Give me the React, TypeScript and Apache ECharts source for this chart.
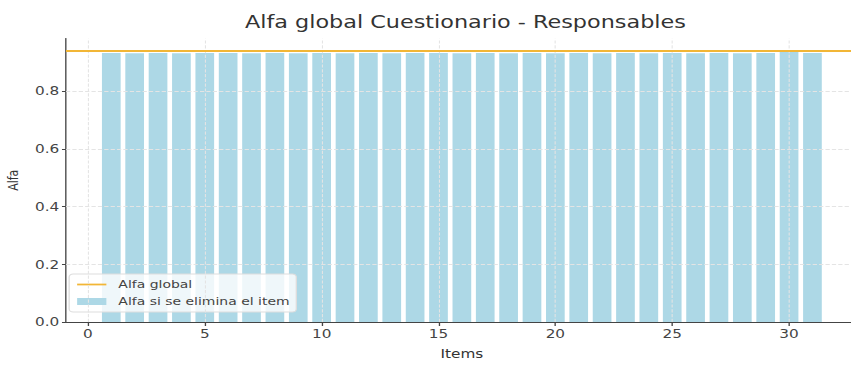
import React, { useEffect, useRef } from "react";
import * as echarts from "echarts";

const items: number[] = [1, 2, 3, 4, 5, 6, 7, 8, 9, 10, 11, 12, 13, 14, 15, 16, 17, 18, 19, 20, 21, 22, 23, 24, 25, 26, 27, 28, 29, 30, 31];
const alphaIfDeleted: number[] = [
  0.932, 0.931, 0.932, 0.931, 0.932, 0.932, 0.931, 0.932, 0.931, 0.932,
  0.931, 0.932, 0.931, 0.932, 0.932, 0.931, 0.932, 0.931, 0.932, 0.931,
  0.932, 0.931, 0.932, 0.931, 0.932, 0.931, 0.932, 0.931, 0.932, 0.937,
  0.932,
];
const globalAlpha = 0.935;
const xTicks: number[] = [0, 5, 10, 15, 20, 25, 30];
const yTicks: number[] = [0, 0.2, 0.4, 0.6, 0.8];

const FONT = "DejaVu Sans";
const NATIVE_W = 640;
const STRETCH = 851 / NATIVE_W;

export default function App() {
  const ref = useRef<HTMLDivElement>(null);
  useEffect(() => {
    if (!ref.current) return;
    const chart = echarts.init(ref.current, null, { renderer: "svg" });
    const xMin = -0.94;
    const xMax = 32.94;
    const yMax = 0.982;
    const gridLeft = 49.6;
    const gridWidth = 595.5;
    const barW = (0.8 * gridWidth) / (xMax - xMin);
    chart.setOption({
      animation: false,
      backgroundColor: "#ffffff",
      title: {
        text: "Alfa global Cuestionario - Responsables",
        left: 345,
        top: 9,
        textAlign: "center",
        textStyle: { fontFamily: FONT, fontSize: 16.8, fontWeight: "normal", color: "#333" },
      },
      legend: {
        orient: "vertical",
        left: 52,
        top: 274,
        data: [
          { name: "Alfa global", icon: "path://M0,0 L10,0 L10,0.8 L0,0.8 Z" },
          { name: "Alfa si se elimina el item", icon: "rect" },
        ],
        itemWidth: 22,
        itemHeight: 7,
        itemGap: 6,
        padding: [5, 5, 5, 6],
        backgroundColor: "rgba(255,255,255,0.8)",
        borderColor: "#dddddd",
        borderWidth: 1,
        borderRadius: 3,
        textStyle: { fontFamily: FONT, fontSize: 10.5, color: "#444", padding: [0, 0, 0, 4] },
      },
      grid: { left: gridLeft, top: 38.5, width: gridWidth, height: 283.5, outerBoundsMode: "none", containLabel: false },
      xAxis: {
        type: "value",
        min: xMin,
        max: xMax,
        name: "Items",
        nameLocation: "middle",
        nameGap: 26,
        nameTextStyle: { fontFamily: FONT, fontSize: 11.5, color: "#333" },
        axisLine: { show: true, onZero: false, lineStyle: { color: "#444", width: 1 } },
        axisTick: { show: true, customValues: xTicks, length: 4, lineStyle: { color: "#444" } },
        axisLabel: { customValues: xTicks, fontFamily: FONT, fontSize: 11.5, color: "#444", margin: 6 },
        splitLine: { show: false },
      },
      yAxis: {
        type: "value",
        min: 0,
        max: yMax,
        name: "Alfa",
        nameLocation: "middle",
        nameGap: 32,
        nameTextStyle: { fontFamily: FONT, fontSize: 11, color: "#333" },
        axisLine: { show: true, onZero: false, lineStyle: { color: "#444", width: 1 } },
        axisTick: { show: true, customValues: yTicks, length: 3, lineStyle: { color: "#444" } },
        axisLabel: {
          customValues: yTicks,
          fontFamily: FONT,
          fontSize: 11.5,
          color: "#444",
          margin: 5,
          formatter: (v: number) => v.toFixed(1),
        },
        splitLine: { show: false },
      },
      series: [
        {
          name: "gridlines",
          type: "scatter",
          data: [],
          silent: true,
          z: 0,
          markLine: {
            silent: true,
            symbol: "none",
            label: { show: false },
            lineStyle: { color: "#e4e4e4", type: "dashed", width: 0.8 },
            data: [
              ...xTicks.map((v) => ({ xAxis: v })),
              ...yTicks.filter((v) => v > 0).map((v) => ({ yAxis: v })),
            ],
          },
        },
        {
          name: "Alfa si se elimina el item",
          type: "bar",
          data: items.map((it, i) => [it, alphaIfDeleted[i]]),
          barWidth: barW,
          itemStyle: { color: "#add8e6" },
          z: 2,
        },
        {
          name: "Alfa global",
          type: "line",
          data: [],
          symbol: "none",
          itemStyle: { color: "#f2b636" },
          lineStyle: { color: "#f2b636", width: 2 },
          z: 3,
          markLine: {
            silent: true,
            symbol: "none",
            label: { show: false },
            lineStyle: { color: "#f2b636", type: "solid", width: 2 },
            data: [{ yAxis: globalAlpha }],
          },
        },
      ],
    });
    return () => chart.dispose();
  }, []);
  return (
    <div
      ref={ref}
      style={{
        position: "absolute",
        left: 0,
        top: 0,
        width: NATIVE_W,
        height: 371,
        transform: `scaleX(${STRETCH})`,
        transformOrigin: "0 0",
      }}
    />
  );
}
